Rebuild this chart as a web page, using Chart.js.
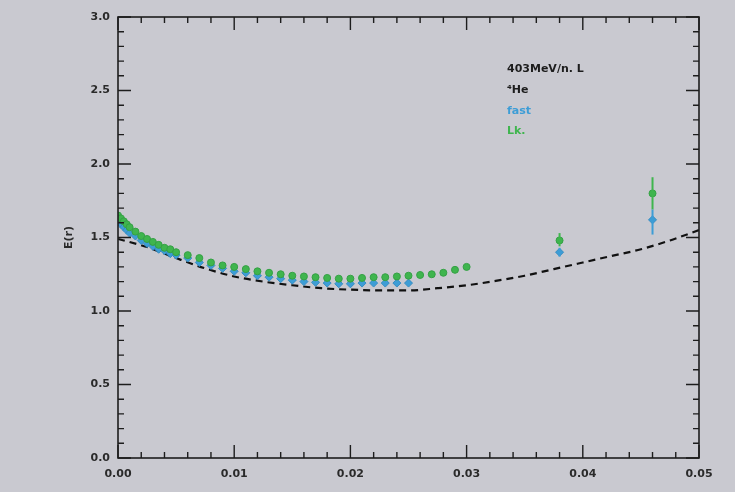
<!DOCTYPE html>
<html>
<head>
<meta charset="utf-8">
<script src="https://cdn.jsdelivr.net/npm/chart.js@4.4.1/dist/chart.umd.min.js"></script>
<style>
  html, body { margin: 0; padding: 0; background: #c9c9d0; }
  #wrap { width: 735px; height: 492px; }
</style>
</head>
<body>
<div id="wrap"><canvas id="grafico" width="735" height="492"></canvas></div>
<script>
// r positions of the measured points
const rPts = [0, 0.00025, 0.0005, 0.00075, 0.001, 0.0015, 0.002, 0.0025, 0.003, 0.0035,
  0.004, 0.0045, 0.005, 0.006, 0.007, 0.008, 0.009, 0.010, 0.011, 0.012, 0.013, 0.014,
  0.015, 0.016, 0.017, 0.018, 0.019, 0.020, 0.021, 0.022, 0.023, 0.024, 0.025,
  0.026, 0.027, 0.028, 0.029, 0.030];

// green series (goes to 0.030)
const verdeE = [1.65, 1.63, 1.61, 1.59, 1.57, 1.54, 1.51, 1.49, 1.47, 1.45,
  1.43, 1.42, 1.40, 1.38, 1.36, 1.33, 1.31, 1.30, 1.285, 1.27, 1.26, 1.25,
  1.24, 1.235, 1.23, 1.225, 1.22, 1.22, 1.225, 1.23, 1.23, 1.235, 1.24,
  1.245, 1.25, 1.26, 1.28, 1.30];

// blue series (stops at 0.025)
const azulE = [1.61, 1.59, 1.57, 1.55, 1.53, 1.51, 1.48, 1.46, 1.44, 1.42,
  1.41, 1.39, 1.38, 1.36, 1.33, 1.31, 1.29, 1.27, 1.26, 1.24, 1.23, 1.22,
  1.21, 1.20, 1.195, 1.19, 1.185, 1.185, 1.19, 1.19, 1.19, 1.19, 1.19];

// two isolated points with error bars
const rSueltos = [0.038, 0.046];
const verdeSuelto = [1.48, 1.80];
const verdeSueltoMin = [1.44, 1.69];
const verdeSueltoMax = [1.53, 1.91];
const azulSuelto = [1.40, 1.62];
const azulSueltoMin = [1.37, 1.52];
const azulSueltoMax = [1.43, 1.69];

// calculated curve (dashed)
const rCurva = [0, 0.0025, 0.005, 0.0075, 0.010, 0.0125, 0.015, 0.0175, 0.020, 0.0225,
  0.025, 0.0275, 0.030, 0.0325, 0.035, 0.0375, 0.040, 0.0425, 0.045, 0.0475, 0.050];
const curvaE = [1.49, 1.435, 1.36, 1.29, 1.235, 1.20, 1.175, 1.155, 1.145, 1.14,
  1.14, 1.155, 1.175, 1.205, 1.24, 1.285, 1.33, 1.375, 1.42, 1.48, 1.55];

const xTicks = ["0.00", "0.01", "0.02", "0.03", "0.04", "0.05"];
const yTicks = ["0.0", "0.5", "1.0", "1.5", "2.0", "2.5", "3.0"];

const textoLeyenda = ["403MeV/n. L", "⁴He", "fast", "Lk."];

const VERDE = "#3fb54e";
const AZUL = "#3d9dd6";
const FUENTE = "bold 11px 'DejaVu Sans', sans-serif";

function puntos(xs, ys) {
  return ys.map((y, i) => ({ x: xs[i], y: y }));
}

// frame, inward ticks, error bars and the label block
const marco = {
  id: "marco",
  afterDatasetsDraw(chart) {
    const ctx = chart.ctx;
    const a = chart.chartArea;
    const sx = chart.scales.x, sy = chart.scales.y;
    ctx.save();

    // error bars of the isolated points
    const barras = [
      [rSueltos, verdeSueltoMin, verdeSueltoMax, VERDE],
      [rSueltos, azulSueltoMin, azulSueltoMax, AZUL]
    ];
    barras.forEach(([xs, lo, hi, col]) => {
      ctx.strokeStyle = col;
      ctx.lineWidth = 2;
      xs.forEach((x, i) => {
        const px = sx.getPixelForValue(x);
        ctx.beginPath();
        ctx.moveTo(px, sy.getPixelForValue(lo[i]));
        ctx.lineTo(px, sy.getPixelForValue(hi[i]));
        ctx.stroke();
      });
    });

    // box
    ctx.strokeStyle = "#1d1d1d";
    ctx.lineWidth = 1.6;
    ctx.strokeRect(a.left, a.top, a.right - a.left, a.bottom - a.top);

    // ticks pointing into the plot on all four sides
    ctx.lineWidth = 1.4;
    for (let k = 0; k <= 25; k++) {
      const px = sx.getPixelForValue(k * 0.002);
      const len = k % 5 === 0 ? 13 : 6;
      ctx.beginPath();
      ctx.moveTo(px, a.bottom); ctx.lineTo(px, a.bottom - len);
      ctx.moveTo(px, a.top); ctx.lineTo(px, a.top + len);
      ctx.stroke();
    }
    for (let k = 0; k <= 30; k++) {
      const py = sy.getPixelForValue(k * 0.1);
      const len = k % 5 === 0 ? 13 : 6;
      ctx.beginPath();
      ctx.moveTo(a.left, py); ctx.lineTo(a.left + len, py);
      ctx.moveTo(a.right, py); ctx.lineTo(a.right - len, py);
      ctx.stroke();
    }

    // label block in the upper right
    ctx.font = FUENTE;
    ctx.textBaseline = "middle";
    const colores = ["#1d1d1d", "#1d1d1d", AZUL, VERDE];
    const ys = [69, 90, 111, 131];
    textoLeyenda.forEach((t, i) => {
      ctx.fillStyle = colores[i];
      ctx.fillText(t, 507, ys[i]);
    });
    ctx.restore();
  }
};

const canvas = document.getElementById("grafico");
const ctx = canvas.getContext("2d");

const config = {
  type: "scatter",
  data: {
    datasets: [
      {
        label: "verde",
        data: puntos(rPts, verdeE).concat(puntos(rSueltos, verdeSuelto)),
        backgroundColor: VERDE,
        borderColor: "#34a044",
        borderWidth: 1,
        pointStyle: "circle",
        pointRadius: 3.5
      },
      {
        label: "azul",
        data: puntos(rPts, azulE).concat(puntos(rSueltos, azulSuelto)),
        backgroundColor: AZUL,
        borderColor: "#348cc2",
        borderWidth: 1,
        pointStyle: "rectRot",
        pointRadius: 4
      },
      {
        type: "line",
        label: "curva",
        data: puntos(rCurva, curvaE),
        borderColor: "#111",
        borderWidth: 2.2,
        borderDash: [7, 5],
        pointRadius: 0,
        cubicInterpolationMode: "monotone",
        fill: false
      }
    ]
  },
  options: {
    responsive: false,
    animation: false,
    events: [],
    layout: { padding: { left: 63, top: 17, right: 36, bottom: 0 } },
    plugins: { legend: { display: false }, tooltip: { enabled: false } },
    scales: {
      x: {
        type: "linear",
        min: 0,
        max: 0.05,
        grid: { display: false, drawTicks: false },
        border: { display: false },
        afterFit: (s) => { s.height = 34; },
        afterBuildTicks: (s) => { s.ticks = xTicks.map((t) => ({ value: parseFloat(t) })); },
        ticks: {
          padding: 10,
          color: "#2a2a2a",
          font: { family: "'DejaVu Sans', sans-serif", size: 11, weight: "bold" },
          callback: (v, i) => xTicks[i]
        }
      },
      y: {
        type: "linear",
        min: 0,
        max: 3,
        grid: { display: false, drawTicks: false },
        border: { display: false },
        afterFit: (s) => { s.width = 55; },
        afterBuildTicks: (s) => { s.ticks = yTicks.map((t) => ({ value: parseFloat(t) })); },
        title: {
          display: true,
          text: "E(r)",
          color: "#2a2a2a",
          padding: 0,
          font: { family: "'DejaVu Sans', sans-serif", size: 11, weight: "bold" }
        },
        ticks: {
          padding: 8,
          color: "#2a2a2a",
          font: { family: "'DejaVu Sans', sans-serif", size: 11, weight: "bold" },
          callback: (v, i) => yTicks[i]
        }
      }
    }
  },
  plugins: [marco]
};

const miGrafico = new Chart(ctx, config);
</script>
</body>
</html>
